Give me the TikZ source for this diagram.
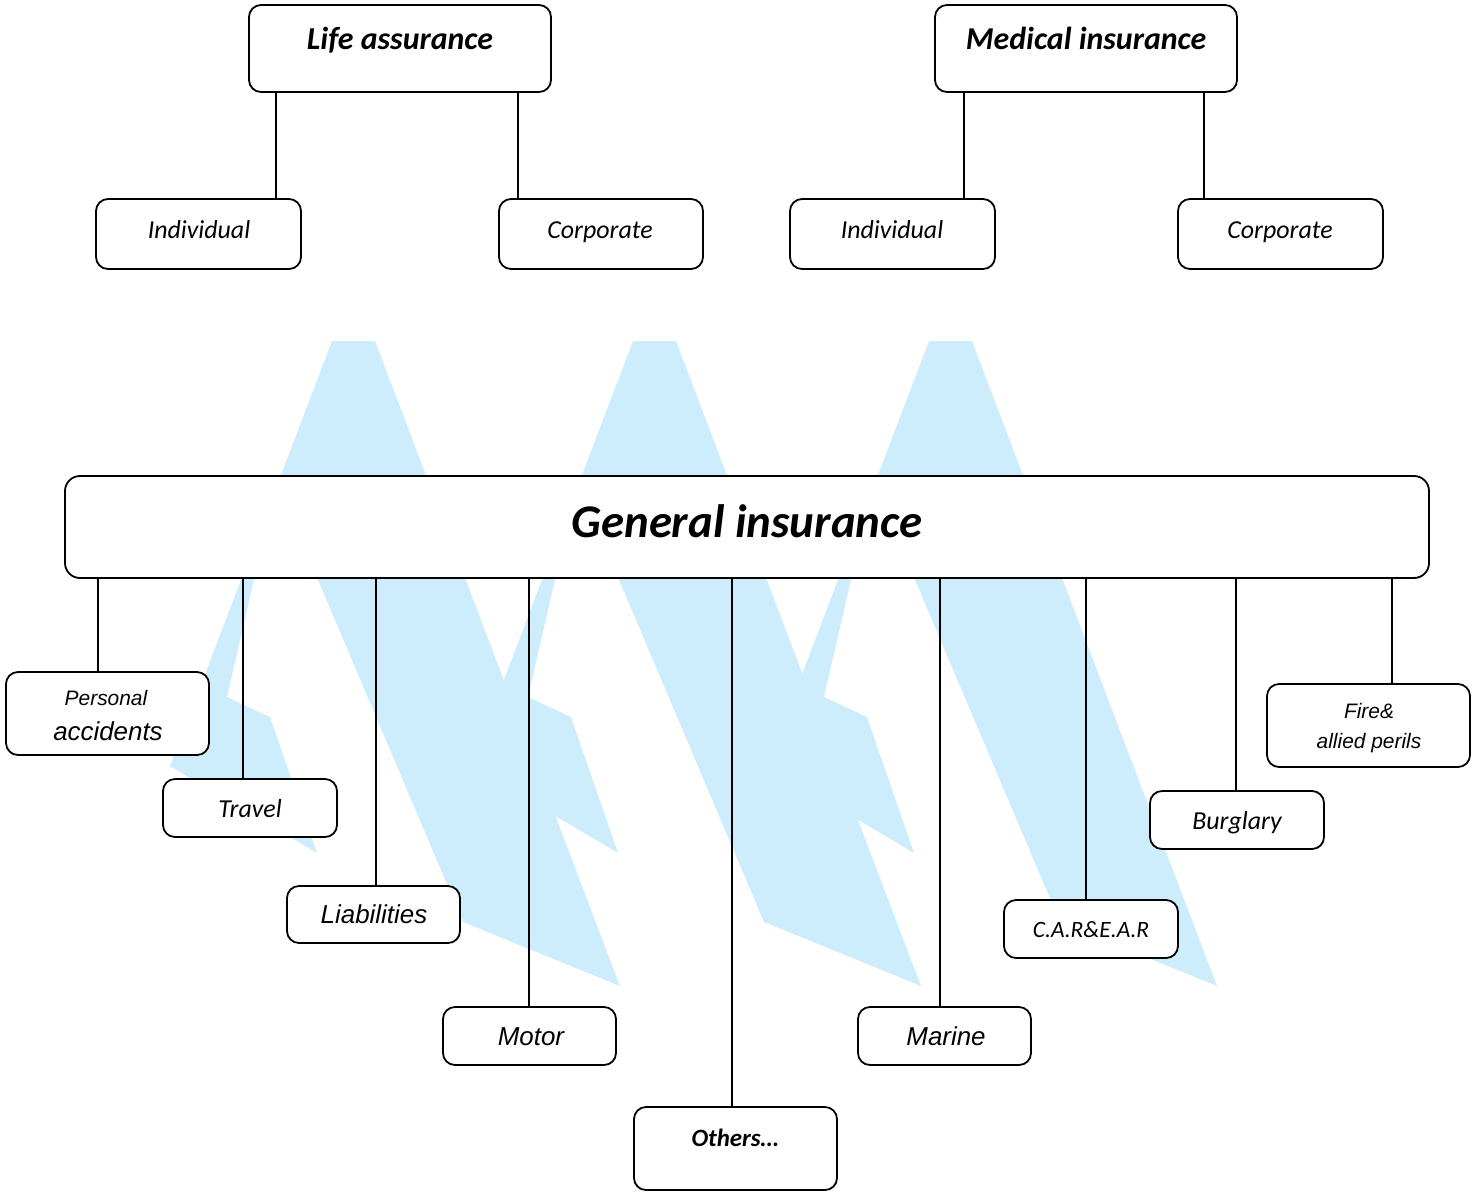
\documentclass[tikz,border=0pt]{standalone}
\usepackage{fontspec}
\newfontfamily\calf{Carlito}
\newfontfamily\arif{Liberation Sans}
\definecolor{wm}{RGB}{206,237,252}
\tikzset{
  box/.style={draw=black, fill=white, line width=1.8bp, rounded corners=12bp, inner sep=0pt, outer sep=0pt},
  conn/.style={draw=black, line width=1.8bp},
  lbl/.style={inner sep=0pt, anchor=base},
  calbi/.style={font=\calf\bfseries\itshape\fontsize{#1}{#1}\selectfont},
  cali/.style={font=\calf\itshape\fontsize{#1}{#1}\selectfont},
  arii/.style={font=\arif\itshape\fontsize{#1}{#1}\selectfont}
}
\begin{document}
\begin{tikzpicture}[x=1bp,y=-1bp]
\useasboundingbox (0,0) rectangle (1481,1191);
% watermark
\foreach \s in {0,301,597} {
  \begin{scope}[xshift=\s bp]
    \fill[wm] (332,341) -- (375,341) -- (620,986) -- (463,922) -- (318,580) -- (305,545)
      -- (262,545) -- (227,697) -- (270,717) -- (317,853) -- (170,766) -- cycle;
  \end{scope}
}
% boxes
\node[box, minimum width=302bp, minimum height=87bp] (life) at (400,48.5) {};
\node[box, minimum width=302bp, minimum height=87bp] (med) at (1086,48.5) {};
\node[box, minimum width=205bp, minimum height=70bp] (li) at (198.5,234) {};
\node[box, minimum width=204bp, minimum height=70bp] (lc) at (601,234) {};
\node[box, minimum width=205bp, minimum height=70bp] (mi) at (892.5,234) {};
\node[box, minimum width=205bp, minimum height=70bp] (mc) at (1280.5,234) {};
\node[box, minimum width=1364bp, minimum height=102bp, rounded corners=15bp] (gen) at (747,527) {};
\node[box, minimum width=203bp, minimum height=83bp] (pa) at (107.5,713.5) {};
\node[box, minimum width=174bp, minimum height=58bp] (tr) at (250,808) {};
\node[box, minimum width=173bp, minimum height=57bp] (lb) at (373.5,914.5) {};
\node[box, minimum width=173bp, minimum height=58bp] (mo) at (529.5,1036) {};
\node[box, minimum width=203bp, minimum height=83bp] (ot) at (735.5,1148.5) {};
\node[box, minimum width=173bp, minimum height=58bp] (ma) at (944.5,1036) {};
\node[box, minimum width=174bp, minimum height=58bp] (car) at (1091,929) {};
\node[box, minimum width=174bp, minimum height=58bp] (bu) at (1237,820) {};
\node[box, minimum width=203bp, minimum height=83bp] (fi) at (1368.5,725.5) {};
% connector x positions
\coordinate (x1) at (276,0);
\coordinate (x2) at (518,0);
\coordinate (x3) at (964,0);
\coordinate (x4) at (1204,0);
\coordinate (g1) at (98,0);
\coordinate (g2) at (243,0);
\coordinate (g3) at (376,0);
\coordinate (g4) at (529,0);
\coordinate (g5) at (732,0);
\coordinate (g6) at (940,0);
\coordinate (g7) at (1086,0);
\coordinate (g8) at (1236,0);
\coordinate (g9) at (1392,0);
\draw[conn] (life.south -| x1) -- (li.north -| x1);
\draw[conn] (life.south -| x2) -- (lc.north -| x2);
\draw[conn] (med.south -| x3) -- (mi.north -| x3);
\draw[conn] (med.south -| x4) -- (mc.north -| x4);
\draw[conn] (gen.south -| g1) -- (pa.north -| g1);
\draw[conn] (gen.south -| g2) -- (tr.north -| g2);
\draw[conn] (gen.south -| g3) -- (lb.north -| g3);
\draw[conn] (gen.south -| g4) -- (mo.north -| g4);
\draw[conn] (gen.south -| g5) -- (ot.north -| g5);
\draw[conn] (gen.south -| g6) -- (ma.north -| g6);
\draw[conn] (gen.south -| g7) -- (car.north -| g7);
\draw[conn] (gen.south -| g8) -- (bu.north -| g8);
\draw[conn] (gen.south -| g9) -- (fi.north -| g9);
% labels
\node[lbl, calbi=32] (lifet) at (400,49) {Life assurance};
\node[lbl, calbi=32] (medt) at (1086,49) {Medical insurance};
\node[lbl, cali=26] (lit) at (199,238) {Individual};
\node[lbl, cali=26] (lct) at (600,238) {Corporate};
\node[lbl, cali=26] (mit) at (892,238) {Individual};
\node[lbl, cali=26] (mct) at (1280,238) {Corporate};
\node[lbl, calbi=47] (gent) at (747,537) {General insurance};
\node[lbl, arii=21] (pat1) at (106,705) {Personal};
\node[lbl, arii=26] (pat2) at (108,740) {accidents};
\node[lbl, cali=26] (trt) at (250,817) {Travel};
\node[lbl, arii=26] (lbt) at (374,923) {Liabilities};
\node[lbl, arii=26] (mot) at (531,1045) {Motor};
\node[lbl, calbi=25] (ott) at (735,1146) {Others…};
\node[lbl, arii=26] (mat) at (946,1045) {Marine};
\node[lbl, cali=23.5] (cart) at (1091,937) {C.A.R\&E.A.R};
\node[lbl, cali=26] (but) at (1237,829) {Burglary};
\node[lbl, arii=21] (fit1) at (1369,718) {Fire\&};
\node[lbl, arii=21] (fit2) at (1369,748) {allied perils};
\end{tikzpicture}
\end{document}
